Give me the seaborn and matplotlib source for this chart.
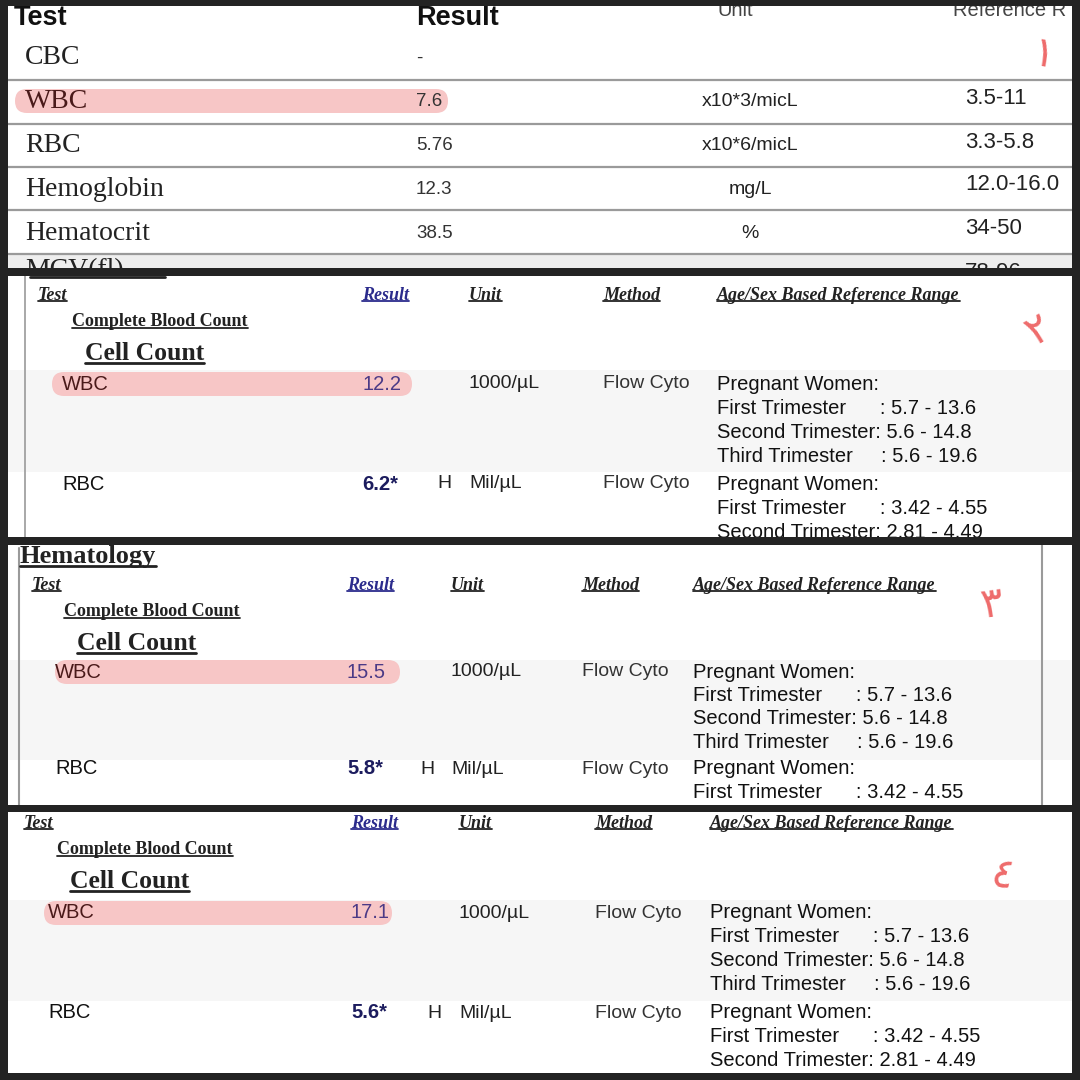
import matplotlib
matplotlib.use("Agg")
import matplotlib.pyplot as plt
import seaborn as sns
from matplotlib.patches import Rectangle, FancyBboxPatch

# ---------- data ----------
p1_tests = ["CBC", "WBC", "RBC", "Hemoglobin", "Hematocrit"]
p1_results = ["-", "7.6", "5.76", "12.3", "38.5"]
p1_units = ["", "x10*3/micL", "x10*6/micL", "mg/L", "%"]
p1_ranges = ["", "3.5-11", "3.3-5.8", "12.0-16.0", "34-50"]

wbc_results = ["12.2", "15.5", "17.1"]
rbc_results = ["6.2*", "5.8*", "5.6*"]
wbc_unit = "1000/µL"
rbc_unit = "Mil/µL"
method = "Flow Cyto"
wbc_ranges = ["Pregnant Women:", "First Trimester      : 5.7 - 13.6",
              "Second Trimester: 5.6 - 14.8", "Third Trimester     : 5.6 - 19.6"]
rbc_ranges = ["Pregnant Women:", "First Trimester      : 3.42 - 4.55",
              "Second Trimester: 2.81 - 4.49"]
rbc_lines_shown = [3, 2, 3]
headers = ["Test", "Result", "Unit", "Method", "Age/Sex Based Reference Range"]
marks = ["١", "٢", "٣", "٤"]

# ---------- layout ----------
sns.set_theme(style="white")
SANS = "Liberation Sans"
SERIF = "Liberation Serif"
BG = "#232323"
PINK = "#f7c6c6"
RED = "#ee6b6b"

fig = plt.figure(figsize=(10.8, 10.8), dpi=100)
ax = fig.add_axes([0, 0, 1, 1])
ax.set_xlim(0, 1080)
ax.set_ylim(1080, 0)
ax.axis("off")
fig.patch.set_facecolor("white")

underlined = []


def put(x, y, s, size, family=SANS, underline=False, **kw):
    kw.setdefault("va", "center")
    kw.setdefault("color", "#222222")
    t = ax.text(x, y, s, fontsize=size, family=family, zorder=3, **kw)
    if underline:
        underlined.append(t)
    return t


def pill(x0, x1, yc, h=24):
    ax.add_patch(FancyBboxPatch((x0, yc - h / 2), x1 - x0, h,
                                boxstyle=f"round,pad=0,rounding_size={h / 2}",
                                fc=PINK, ec="none", zorder=2))


def clip_panel(n_txt, rect):
    # crop everything drawn for one screenshot to its own rectangle
    box = Rectangle(rect[:2], rect[2], rect[3], transform=ax.transData)
    for t in ax.texts[n_txt:]:
        t.set_clip_on(True)
        t.set_clip_path(box)


# ---------- panel 1 ----------
n0 = len(ax.texts)
put(14, 18, "Test", 19.5, weight="bold", color="#111111")
put(416, 18, "Result", 19.5, weight="bold", color="#111111")
put(735, 10, "Unit", 14.5, color="#444444", ha="center")
put(953, 10, "Reference R", 14.5, color="#444444")
row_y = [57, 101, 145, 188, 232]
for yl in [80, 124, 167, 210, 254]:
    ax.plot([8, 1072], [yl, yl], color="#9a9a9a", lw=1.6, zorder=1)
ax.add_patch(Rectangle((8, 255), 1064, 14, fc="#eeeeee", ec="none", zorder=0))
pill(15, 448, 101)
for i, yy in enumerate(row_y):
    put(25, yy + 1, p1_tests[i], 20, family=SERIF,
        color="#4a1a1a" if p1_tests[i] == "WBC" else "#222222")
    put(416, yy + 1, p1_results[i], 13.5, color="#333333")
    put(750, yy + 1, p1_units[i], 14, color="#222222", ha="center")
    put(965, yy - 3, p1_ranges[i], 16, color="#222222")
put(965, 272, "78-96", 16)
put(25, 271, "MCV(fl)", 20, family=SERIF)
put(1043, 55, marks[0], 30, family="DejaVu Sans", color=RED, ha="center", rotation=-10)
clip_panel(n0, (8, 6, 1064, 262))

# ---------- panels 2-4 (same report layout) ----------
panels = [
    dict(hy=295, tx=38, rx=362, ux=469, mx=603, fx=717, cx=72, ccx=85, wx=62, hx=437,
         wy=384, ry=484, dy=24, pill=(52, 412), band=(370, 472), mark=(1038, 330, 30),
         rect=(8, 276, 1064, 261)),
    dict(hy=585, tx=32, rx=347, ux=451, mx=582, fx=693, cx=64, ccx=77, wx=55, hx=420,
         wy=672, ry=769, dy=23.5, pill=(55, 400), band=(660, 760), mark=(992, 605, 8),
         rect=(8, 545, 1064, 260)),
    dict(hy=823, tx=24, rx=351, ux=459, mx=595, fx=710, cx=57, ccx=70, wx=48, hx=427,
         wy=913, ry=1013, dy=24, pill=(44, 392), band=(900, 1001), mark=(1002, 876, -15),
         rect=(8, 812, 1064, 261)),
]
for k, p in enumerate(panels):
    n0 = len(ax.texts)
    ax.add_patch(Rectangle((8, p["band"][0]), 1064, p["band"][1] - p["band"][0],
                           fc="#f6f6f6", ec="none", zorder=0))
    xs = [p["tx"], p["rx"], p["ux"], p["mx"], p["fx"]]
    for j, h in enumerate(headers):
        put(xs[j], p["hy"], h, 13, family=SERIF, style="italic", weight="bold",
            underline=True, color="#2b2b8c" if h == "Result" else "#222222")
    put(p["cx"], p["hy"] + 27, "Complete Blood Count", 13, family=SERIF,
        weight="bold", underline=True)
    put(p["ccx"], p["hy"] + 59, "Cell Count", 18.5, family=SERIF, weight="bold",
        underline=True)
    pill(p["pill"][0], p["pill"][1], p["wy"])
    put(p["wx"], p["wy"], "WBC", 14.5, color="#4a1a1a")
    put(p["rx"], p["wy"], wbc_results[k], 14.5, color="#4b3a86")
    put(p["ux"], p["wy"], wbc_unit, 14, color="#222222")
    put(p["mx"], p["wy"], method, 14, color="#333333")
    for j, line in enumerate(wbc_ranges):
        put(p["fx"], p["wy"] + j * p["dy"], line, 14.5, color="#111111")
    put(p["wx"], p["ry"], "RBC", 14.5, color="#111111")
    put(p["rx"], p["ry"], rbc_results[k], 14.5, weight="bold", color="#1c1c5e")
    put(p["hx"], p["ry"], "H", 14, color="#222222")
    put(p["ux"], p["ry"], rbc_unit, 14, color="#222222")
    put(p["mx"], p["ry"], method, 14, color="#333333")
    for j, line in enumerate(rbc_ranges[:rbc_lines_shown[k]]):
        put(p["fx"], p["ry"] + j * p["dy"], line, 14.5, color="#111111")
    mx, my, rot = p["mark"]
    put(mx, my, marks[k + 1], 30, family="DejaVu Sans", color=RED, ha="center",
        rotation=rot)
    if k == 1:
        put(20, 557, "Hematology", 19, family=SERIF, weight="bold", underline=True)
    clip_panel(n0, p["rect"])

# thin frame lines inside the screenshots
ax.plot([19, 19], [548, 805], color="#9a9a9a", lw=1.5, zorder=1)
ax.plot([1042, 1042], [545, 805], color="#9a9a9a", lw=1.5, zorder=1)
ax.plot([25, 25], [276, 537], color="#9a9a9a", lw=1.2, zorder=1)
ax.plot([30, 165], [277, 277], color="#222222", lw=2, zorder=1)

# underlines from rendered text extents
fig.canvas.draw()
r = fig.canvas.get_renderer()
inv = ax.transData.inverted()
for t in underlined:
    bb = t.get_window_extent(r)
    (x0, y0), (x1, y1) = inv.transform([[bb.x0, bb.y0], [bb.x1, bb.y1]])
    ax.plot([x0, x1], [y0 - 3, y0 - 3], color=t.get_color(),
            lw=1.3 if t.get_fontsize() < 15 else 2, zorder=3)

# dark collage frame drawn last so it crops the screenshots
for (x, y, w, h) in [(0, 0, 1080, 6), (0, 268, 1080, 8), (0, 537, 1080, 8),
                     (0, 805, 1080, 7), (0, 1073, 1080, 7), (0, 0, 8, 1080),
                     (1072, 0, 8, 1080)]:
    ax.add_patch(Rectangle((x, y), w, h, fc=BG, ec="none", zorder=10))

fig.savefig("out.png", dpi=100, facecolor=fig.get_facecolor())
